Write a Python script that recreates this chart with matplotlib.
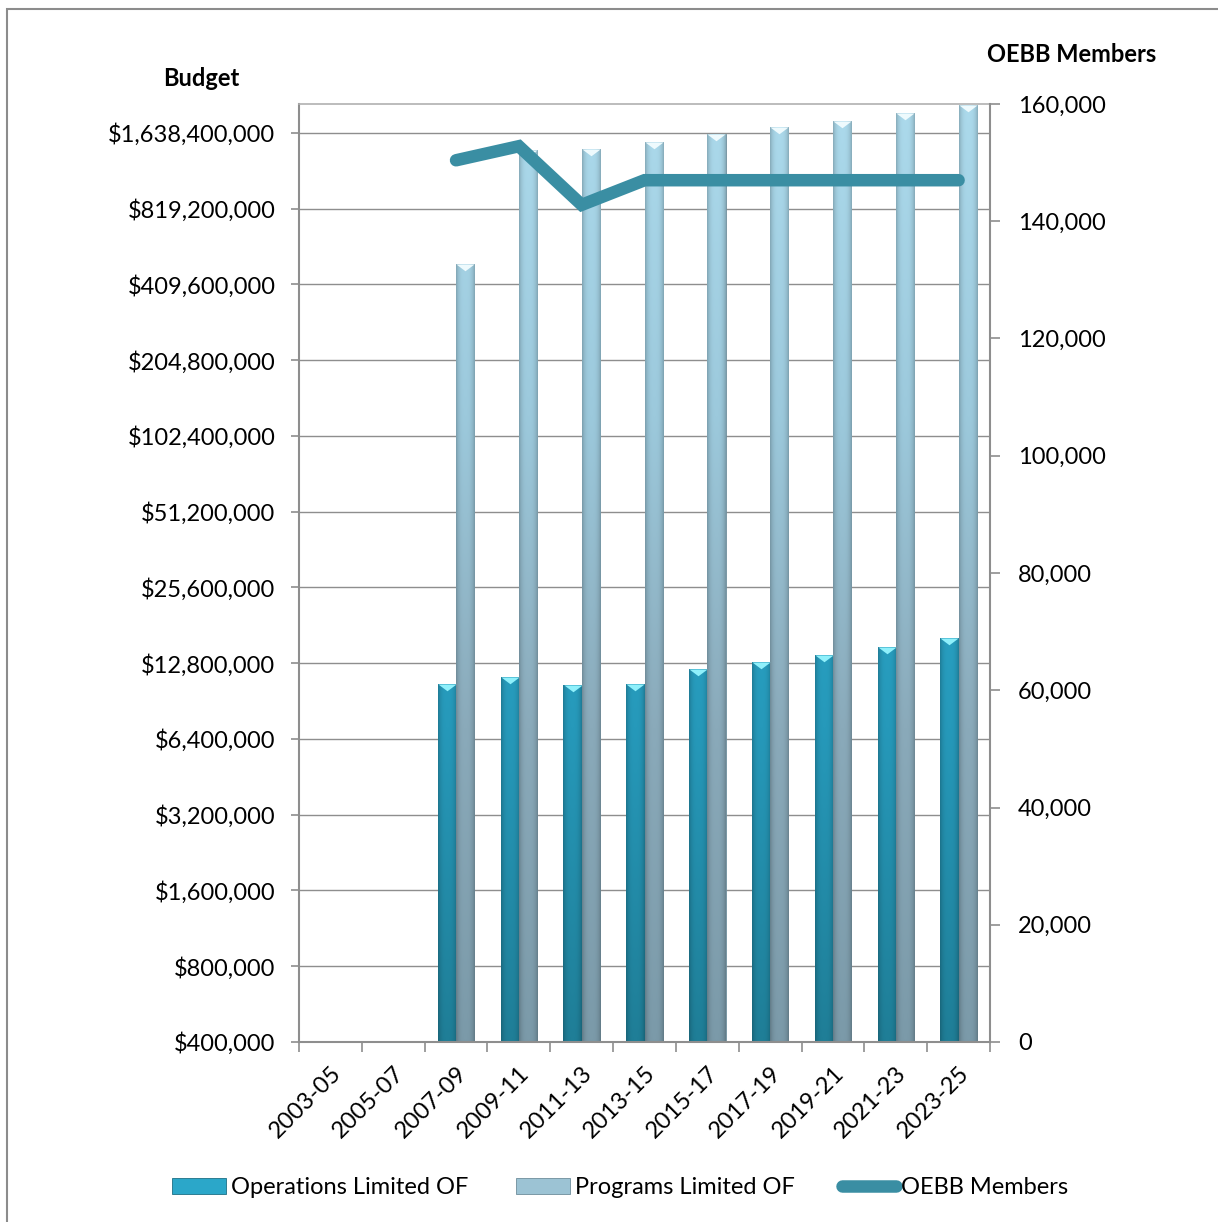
import numpy as np
import matplotlib
matplotlib.use("Agg")
import matplotlib.pyplot as plt
from matplotlib.colors import LinearSegmentedColormap
from matplotlib.lines import Line2D
from matplotlib.patches import Patch, Rectangle
from matplotlib.ticker import FixedLocator, FuncFormatter, MultipleLocator

plt.rcParams['font.family'] = ['Lato', 'DejaVu Sans']

periods = ['2003-05', '2005-07', '2007-09', '2009-11', '2011-13', '2013-15',
           '2015-17', '2017-19', '2019-21', '2021-23', '2023-25']
# budgets in dollars, members as head count (no data before 2007-09)
operations = [np.nan, np.nan, 10.6e6, 11.3e6, 10.5e6, 10.6e6,
              12.1e6, 12.95e6, 13.8e6, 14.9e6, 16.1e6]
programs = [np.nan, np.nan, 494e6, 1.40e9, 1.416e9, 1.51e9,
            1.62e9, 1.72e9, 1.83e9, 1.97e9, 2.12e9]
members = [np.nan, np.nan, 150400, 152800, 142800, 147000,
           147000, 147000, 147000, 147000, 147000]
budget_ticks = [400000 * 2 ** k for k in range(13)]

ops_cmap = LinearSegmentedColormap.from_list('ops', ['#1f7e97', '#2699ba', '#2ca9cb', '#35b7da'])
prog_cmap = LinearSegmentedColormap.from_list('prog', ['#7b9aa9', '#8aaaba', '#9cc9dc', '#acdaec'])
line_color = '#3a8ea3'
grid_color = '#8e8e8e'
fs = 17

fig = plt.figure(figsize=(12.18, 12.22), dpi=100)
ax = fig.add_axes([299 / 1218, 1 - 1042 / 1222, 691 / 1218, 938 / 1222])

x = np.arange(len(periods))
w = 0.29
floor = budget_ticks[0]
top = floor * 2 ** 12.38

idx = [i for i in x if not np.isnan(operations[i])]
ops_vals = np.array([operations[i] for i in idx])
prog_vals = np.array([programs[i] for i in idx])
xi = np.array(idx, dtype=float)

ops_bars = ax.bar(xi - w / 2, ops_vals - floor, w, bottom=floor, color='#2596b6',
                  edgecolor='#1d6f85', linewidth=0.6, zorder=2)
prog_bars = ax.bar(xi + w / 2, prog_vals - floor, w, bottom=floor, color='#8fb6c8',
                   edgecolor='#6e8d9b', linewidth=0.6, zorder=2)

ax.set_yscale('log', base=2)
ax.set_xlim(-0.5, len(periods) - 0.5)
ax.set_ylim(floor, top)


def shade(bars, cmap):
    x0, x1 = ax.get_xlim()
    yy = np.linspace(0, 1, 256)[:, None]
    xx = np.linspace(-1, 1, 32)[None, :]
    for bar in bars:
        fa = (bar.get_x() - x0) / (x1 - x0)
        fb = (bar.get_x() + bar.get_width() - x0) / (x1 - x0)
        rgba = cmap(np.repeat(yy, 32, axis=1))
        light = 1 - 0.2 * np.abs(xx) ** 3
        rgba[..., :3] *= light[..., None]
        im = ax.imshow(rgba, extent=(fa, fb, 0, 1), origin='lower', transform=ax.transAxes,
                       aspect='auto', interpolation='bilinear', zorder=2.1)
        im.set_clip_path(bar)


shade(ops_bars, ops_cmap)
shade(prog_bars, prog_cmap)
ax.set_xlim(-0.5, len(periods) - 0.5)
ax.set_ylim(floor, top)

# bevel caps on top of each bar
cap = [(-1, 0), (1, 0), (0, -0.75)]
ax.plot(xi - w / 2, ops_vals, ls='none', marker=cap, ms=13, color='#8ff0fb', mec='none', zorder=3)
ax.plot(xi + w / 2, prog_vals, ls='none', marker=cap, ms=13, color='#eefafd', mec='none', zorder=3)

ax.yaxis.set_major_locator(FixedLocator(budget_ticks))
ax.yaxis.set_minor_locator(FixedLocator([]))
ax.yaxis.set_major_formatter(FuncFormatter(lambda v, p: '${:,.0f}'.format(v)))
ax.grid(axis='y', color=grid_color, linewidth=1.0, zorder=0)
ax.set_axisbelow(True)

ax.set_xticks(x)
ax.set_xticklabels(periods, rotation=45, ha='right', va='top', rotation_mode='anchor')
ax.set_xticks(np.arange(-0.5, len(periods)), minor=True)
ax.tick_params(axis='x', which='major', length=0, pad=15, labelsize=fs)
ax.tick_params(axis='x', which='minor', length=7, width=1.2, color=grid_color)
ax.tick_params(axis='y', length=6, width=1.2, color=grid_color, pad=11, labelsize=fs)

for side in ['left', 'bottom']:
    ax.spines[side].set_color(grid_color)
    ax.spines[side].set_linewidth(1.5)
ax.spines['top'].set_color('#b0b0b0')
ax.spines['top'].set_linewidth(1.2)
ax.spines['right'].set_visible(False)

ax2 = ax.twinx()
ax2.plot(x, members, color=line_color, lw=9, solid_capstyle='round', solid_joinstyle='miter', zorder=4)
ax2.set_ylim(0, 160000)
ax2.yaxis.set_major_locator(MultipleLocator(20000))
ax2.yaxis.set_major_formatter(FuncFormatter(lambda v, p: '{:,.0f}'.format(v)))
ax2.tick_params(axis='y', length=7, width=1.2, color=grid_color, pad=13, labelsize=fs)
ax2.spines['right'].set_color(grid_color)
ax2.spines['right'].set_linewidth(1.5)
for side in ['left', 'top', 'bottom']:
    ax2.spines[side].set_visible(False)

fig.text(201 / 1218, 1 - 78 / 1222, 'Budget', ha='center', va='center', fontsize=fs, fontweight='bold')
fig.text(1072 / 1218, 1 - 54 / 1222, 'OEBB Members', ha='center', va='center', fontsize=fs, fontweight='bold')

handles = [Patch(facecolor='#2ba7c9', edgecolor='#1d6f85', linewidth=0.6),
           Patch(facecolor='#9cc3d4', edgecolor='#6e8d9b', linewidth=0.6),
           Line2D([], [], color=line_color, lw=9, solid_capstyle='round')]
fig.legend(handles, ['Operations Limited OF', 'Programs Limited OF', 'OEBB Members'],
           loc='center', bbox_to_anchor=(620 / 1218, 1 - 1188 / 1222), ncol=3, frameon=False,
           fontsize=fs, handlelength=2.3, handleheight=0.65, handletextpad=0.2, columnspacing=2.0)

fig.patches.append(Rectangle((7 / 1218, -0.05), 1.0, 1.05 - 9 / 1222, transform=fig.transFigure,
                             fill=False, edgecolor='#8c8c8c', linewidth=1.5))

fig.savefig('out.png', dpi=100)
